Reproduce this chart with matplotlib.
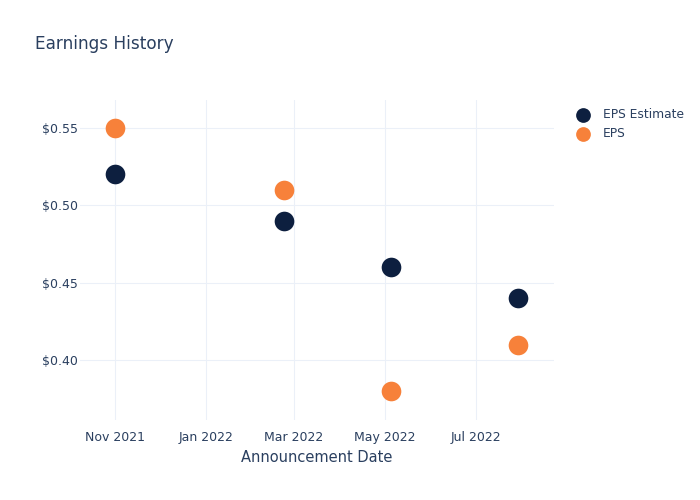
import matplotlib
matplotlib.use("Agg")
import matplotlib.pyplot as plt
import pandas as pd

dates = ["2021-11-01", "2022-02-22", "2022-05-05", "2022-07-29"]
eps_estimate = [0.52, 0.49, 0.46, 0.44]
eps_actual = [0.55, 0.51, 0.38, 0.41]
y_ticks = [0.40, 0.45, 0.50, 0.55]
x_ticks = ["2021-11-01", "2022-01-01", "2022-03-01", "2022-05-01", "2022-07-01"]

plt.rcParams['font.family'] = ['DejaVu Sans']
text_color = "#2a3f5f"
grid_color = "#ebf0f8"
navy = "#0d1f3f"
orange = "#f7813a"

d = pd.to_datetime(dates)
fig = plt.figure(figsize=(7, 5), dpi=100)
ax = fig.add_axes([80/700, 80/500, (554-80)/700, 320/500])

ax.scatter(d, eps_estimate, s=200, color=navy, label="EPS Estimate", zorder=3, linewidths=0)
ax.scatter(d, eps_actual, s=200, color=orange, label="EPS", zorder=3, linewidths=0)

ax.set_xlim(pd.Timestamp("2021-10-08 12:00"), pd.Timestamp("2022-08-22 08:00"))
ax.set_ylim(0.3613, 0.5681)
ax.set_yticks(y_ticks)
ax.set_yticklabels([f"${v:.2f}" for v in y_ticks])
xt = pd.to_datetime(x_ticks)
ax.set_xticks(xt)
ax.set_xticklabels([t.strftime("%b %Y") for t in xt])

for s in ax.spines.values():
    s.set_visible(False)
ax.grid(True, color=grid_color, linewidth=0.75)
ax.set_axisbelow(True)
ax.tick_params(axis="x", length=0, colors=text_color, labelsize=9, pad=8)
ax.tick_params(axis="y", length=0, colors=text_color, labelsize=9, pad=1.5)
ax.set_xlabel("Announcement Date", color=text_color, fontsize=10.5, labelpad=4)

fig.text(35/700, 1 - 44/500, "Earnings History", color=text_color, fontsize=12.2, va="center", ha="left")

leg = fig.legend(loc="upper left", bbox_to_anchor=(566/700, 1 - 103/500), frameon=False,
                 fontsize=8.8, labelcolor=text_color, handletextpad=0.6, borderaxespad=0,
                 labelspacing=0.5, markerscale=0.75)

fig.savefig("out.png", dpi=100)
